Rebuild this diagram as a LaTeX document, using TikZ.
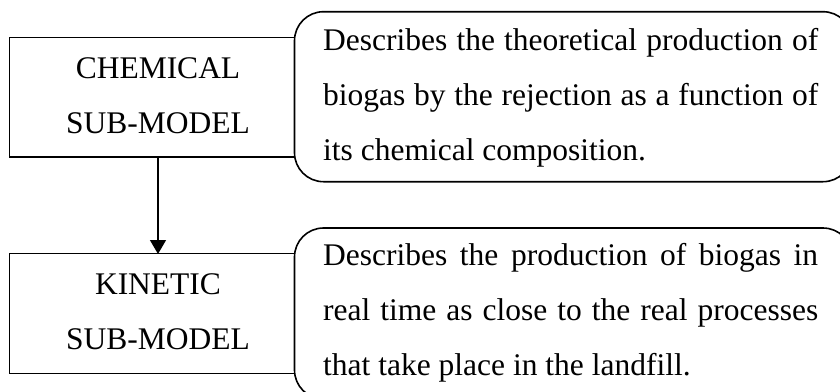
\documentclass[tikz,border=0pt]{standalone}
\usepackage{fontspec}
\setmainfont{Liberation Serif}
\usetikzlibrary{arrows.meta}
\begin{document}
\begin{tikzpicture}[x=1pt,y=-1pt,
  box/.style={draw, line width=1.6pt, rectangle, inner sep=0pt},
  rbox/.style={draw, line width=1.6pt, rectangle, rounded corners=29pt, inner sep=0pt},
  lbl/.style={font=\fontsize{31.5}{55}\selectfont, inner sep=0pt, text width=240pt, align=center, anchor=base},
  desc/.style={font=\fontsize{31.5}{55}\selectfont, inner sep=0pt, text width=495pt, align=justify, anchor=base west},
  conn/.style={line width=1.4pt, -{Triangle[length=14pt,width=16pt]}}]
\clip (0,0) rectangle (840,391);
\node[box, minimum width=285pt, minimum height=119.2pt] (chem) at (152,97.1) {};
\node[box, minimum width=285pt, minimum height=120pt] (kin) at (152,313.5) {};
\node[rbox, minimum width=557.5pt, minimum height=170pt] (d1) at (573.25,96.7) {};
\node[rbox, minimum width=557.5pt, minimum height=171pt] (d2) at (573.25,313.5) {};
\node[lbl] (chemt) at (158,78) {CHEMICAL\\SUB-MODEL};
\node[lbl] (kint) at (158,294) {KINETIC\\SUB-MODEL};
\node[desc] (d1t) at (323,50) {Describes the theoretical production of\linebreak biogas by the rejection as a function of\linebreak its chemical composition.};
\node[desc] (d2t) at (323,265) {Describes the production of biogas in\linebreak real time as close to the real processes\linebreak that take place in the landfill.};
\coordinate (a1) at (158,156.7);
\coordinate (a2) at (158,254);
\draw[conn] (a1) -- (a2);
\end{tikzpicture}
\end{document}
